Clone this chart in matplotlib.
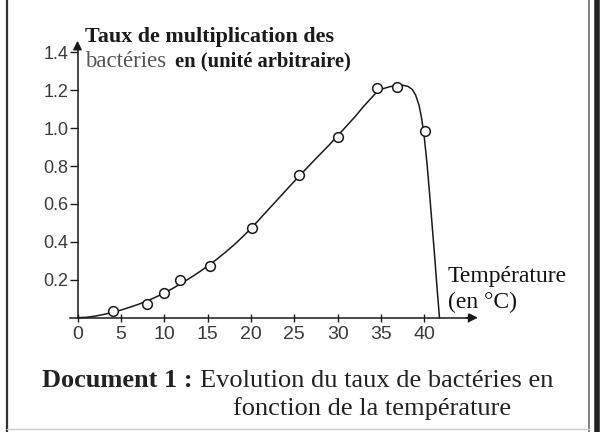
import matplotlib.pyplot as plt
from matplotlib.lines import Line2D

temp_points = [4.1, 8.0, 10.0, 11.8, 15.3, 20.1, 25.5, 30.1, 34.5, 36.9, 40.1]
taux_points = [0.035, 0.072, 0.129, 0.199, 0.274, 0.475, 0.753, 0.954, 1.212, 1.220, 0.987]

# tracé de la courbe (relevé à la main)
temp_courbe = [0, 1, 2, 3, 4, 5, 6, 7, 8, 9, 10, 11, 12, 13, 14, 15, 16, 17, 18, 19, 20,
               21.5, 23, 24.5, 26, 27.5, 29, 30.5, 32, 33, 34, 34.5, 35, 36, 36.8, 37.5,
               38.1, 38.6, 39.0, 39.4, 39.7, 40.0, 40.3, 40.6, 40.9, 41.2, 41.5, 41.75]
taux_courbe = [0, 0.002, 0.008, 0.017, 0.028, 0.04, 0.055, 0.07, 0.088, 0.108, 0.13, 0.155,
               0.182, 0.21, 0.24, 0.272, 0.306, 0.343, 0.382, 0.425, 0.47,
               0.545, 0.62, 0.695, 0.768, 0.84, 0.91, 0.985, 1.06, 1.115, 1.165, 1.19,
               1.205, 1.219, 1.225, 1.227, 1.221, 1.205, 1.175, 1.12, 1.05, 0.95, 0.82,
               0.66, 0.49, 0.32, 0.14, 0.0]

xticks = [0, 5, 10, 15, 20, 25, 30, 35, 40, 45]
xtick_labels = ['0', '5', '10', '15', '20', '25', '30', '35', '40', '']
yticks = [0.2, 0.4, 0.6, 0.8, 1.0, 1.2, 1.4]
ytick_labels = ['0.2', '0.4', '0.6', '0.8', '1.0', '1.2', '1.4']

W, H = 601, 432
fig = plt.figure(figsize=(W / 100, H / 100), dpi=100)
ax = fig.add_axes([0, 0, 1, 1])

# échelle : origine à (77.5, 317.7) px
x0, sx = 77.5, 8.67
y0, sy = 317.7, 189.5
ax.set_xlim(-x0 / sx, (W - x0) / sx)
ax.set_ylim((y0 - H) / sy, y0 / sy)

def px(x, y):
    return x / W, 1 - y / H

serif = 'Liberation Serif'
sans = 'Liberation Sans'
ink = '#1a1a1a'

for s in ['top', 'right']:
    ax.spines[s].set_visible(False)
ax.spines['left'].set_position(('data', 0))
ax.spines['bottom'].set_position(('data', 0))
ax.spines['left'].set_bounds(0, 1.44)
ax.spines['bottom'].set_bounds(-0.9, 45.5)
for s in ['left', 'bottom']:
    ax.spines[s].set_color(ink)
    ax.spines[s].set_linewidth(1.1)

ax.annotate('', xy=(46.5, 0), xytext=(44.5, 0),
            arrowprops=dict(arrowstyle='-|>', color=ink, lw=1.1, mutation_scale=13))
ax.annotate('', xy=(0, 1.476), xytext=(0, 1.40),
            arrowprops=dict(arrowstyle='-|>', color=ink, lw=1.1, mutation_scale=13))

ax.set_xticks(xticks)
ax.set_xticklabels(xtick_labels, fontfamily=sans, fontsize=14, color='#3a3a3a')
ax.set_yticks(yticks)
ax.set_yticklabels(ytick_labels, fontfamily=sans, fontsize=13, color='#3a3a3a')
ax.tick_params(axis='x', direction='inout', length=5.5, width=1, color=ink, pad=3)
ax.tick_params(axis='y', direction='out', length=5.5, width=1, color=ink, pad=1)

ax.plot(temp_courbe, taux_courbe, color=ink, lw=1.1, zorder=2)
ax.plot(temp_points, taux_points, 'o', ms=7, mfc='white', mec=ink, mew=1.1, zorder=3)

# textes
fig.text(*px(85, 41.7), 'Taux de multiplication des', fontfamily=serif, fontsize=15.8,
         fontweight='bold', color='#1a1a1a', va='baseline')
fig.text(*px(85, 66.7), 'bactéries', fontfamily=serif, fontsize=16.5,
         color='#555555', va='baseline')
fig.text(*px(175, 66.7), 'en (unité arbitraire)', fontfamily=serif, fontsize=14.9,
         fontweight='bold', color='#1a1a1a', va='baseline')
fig.text(*px(448, 281.7), 'Température', fontfamily=serif, fontsize=17,
         color='#111111', va='baseline')
fig.text(*px(448, 308), '(en °C)', fontfamily=serif, fontsize=17,
         color='#111111', va='baseline')

fig.text(*px(42, 387), 'Document 1 :', fontfamily=serif, fontsize=19, fontweight='bold',
         color='#222222', va='baseline')
fig.text(*px(200, 387), 'Evolution du taux de bactéries en', fontfamily=serif, fontsize=19,
         color='#222222', va='baseline')
fig.text(*px(233, 415), 'fonction de la température', fontfamily=serif, fontsize=19,
         color='#222222', va='baseline')

# cadre
fig.add_artist(Line2D([7 / W, 7 / W], [0, 1], color='#333333', lw=1.6))
fig.add_artist(Line2D([589 / W, 589 / W], [0, 1], color='#777777', lw=1.3))
fig.add_artist(Line2D([597 / W, 597 / W], [0, 1], color='#222222', lw=4))
fig.add_artist(Line2D([7 / W, 589 / W], [1 - 429 / H, 1 - 429 / H], color='#cccccc', lw=1))

fig.savefig('out.png', dpi=100)
